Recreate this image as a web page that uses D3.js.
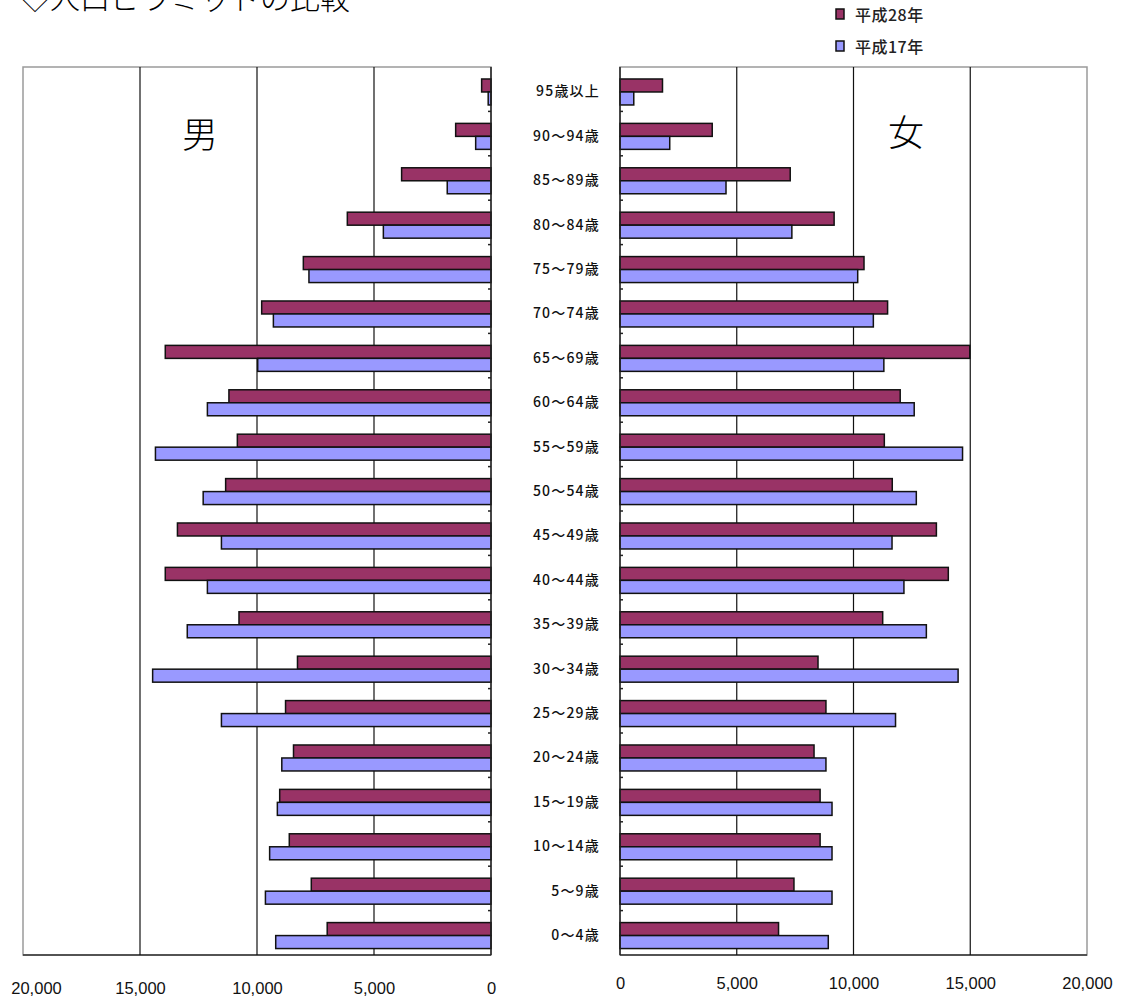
<!DOCTYPE html>
<html><head><meta charset="utf-8">
<script src="https://cdn.jsdelivr.net/npm/d3@7"></script>
<style>
html,body{margin:0;padding:0;background:#fff;}
svg{display:block;}
</style></head>
<body>
<script>
const categories = ["95歳以上","90～94歳","85～89歳","80～84歳","75～79歳","70～74歳","65～69歳","60～64歳","55～59歳","50～54歳","45～49歳","40～44歳","35～39歳","30～34歳","25～29歳","20～24歳","15～19歳","10～14歳","5～9歳","0～4歳"];
const seriesNames = ["平成28年","平成17年"];
const maleH28 = [400,1510,3820,6140,8020,9800,13920,11200,10840,11340,13400,13920,10770,8270,8780,8440,9030,8620,7680,7000];
const maleH17 = [120,655,1870,4600,7780,9300,9970,12120,14340,12300,11520,12120,12980,14460,11520,8940,9130,9460,9640,9200];
const femaleH28 = [1820,3950,7290,9170,10450,11460,14980,12000,11320,11660,13550,14060,11250,8480,8820,8310,8570,8570,7450,6790];
const femaleH17 = [590,2130,4540,7360,10180,10850,11300,12600,14670,12690,11650,12160,13120,14480,11800,8820,9080,9080,9080,8920];
const tickValues = [0,5000,10000,15000,20000];
const colors = ["#993366","#9999FF"];

const W = 1121, H = 998;
const svg = d3.select("body").append("svg").attr("width",W).attr("height",H);

const plotTop = 67, plotBottom = 955;
const y = d3.scaleBand().domain(categories).range([plotTop,plotBottom]);
const ys = d3.scaleBand().domain(seriesNames).range([y.bandwidth()*0.27, y.bandwidth()*0.855]);
const xL = d3.scaleLinear().domain([0,20000]).range([491,23]);
const xR = d3.scaleLinear().domain([0,20000]).range([620,1087]);

// title (cut off at top, as in the source image)
svg.append("text").attr("x",20).attr("y",9)
  .attr("font-family","'Noto Sans CJK JP'").attr("font-weight",300).attr("font-size",30)
  .attr("fill","#000").text("◇人口ピラミッドの比較");

function panel(x, dataSets, side){
  const g = svg.append("g");
  const x0 = x(0), x1 = x(20000);
  const left = Math.min(x0,x1), right = Math.max(x0,x1);
  g.append("rect").attr("x",left).attr("y",plotTop).attr("width",right-left).attr("height",plotBottom-plotTop)
    .attr("fill","#fff").attr("stroke","#9a9a9a").attr("stroke-width",1.5);
  g.append("line").attr("x1",left).attr("x2",right).attr("y1",plotBottom).attr("y2",plotBottom)
    .attr("stroke","#333").attr("stroke-width",1.5);
  g.selectAll("line.grid").data(tickValues.filter(v=>v>0 && v<20000)).join("line")
    .attr("class","grid").attr("x1",d=>x(d)).attr("x2",d=>x(d)).attr("y1",plotTop).attr("y2",plotBottom)
    .attr("stroke","#111").attr("stroke-width",1.2);
  dataSets.forEach((vals,si)=>{
    g.selectAll("rect.s"+si).data(vals).join("rect").attr("class","s"+si)
      .attr("x",d=>Math.min(x(0),x(d)))
      .attr("width",d=>Math.abs(x(d)-x(0)))
      .attr("y",(d,i)=>y(categories[i])+ys(seriesNames[si]))
      .attr("height",ys.bandwidth())
      .attr("fill",colors[si]).attr("stroke","#111").attr("stroke-width",1.5);
  });
  g.append("line").attr("x1",x(0)).attr("x2",x(0)).attr("y1",plotTop).attr("y2",plotBottom)
    .attr("stroke","#222").attr("stroke-width",1.5);
  const dir = side==="left" ? -1 : 1;
  g.selectAll("line.tk").data(categories.slice(1)).join("line").attr("class","tk")
    .attr("x1",x(0)).attr("x2",x(0)+dir*3)
    .attr("y1",d=>y(d)).attr("y2",d=>y(d))
    .attr("stroke","#222").attr("stroke-width",1.5);
  const ax = svg.append("g").attr("transform",`translate(0,${side==="left"?982:977})`)
    .call(d3.axisBottom(x).tickValues(tickValues).tickSize(0).tickPadding(0).tickFormat(d3.format(",")));
  ax.select(".domain").remove();
  ax.selectAll("text").attr("font-family","'Liberation Sans', Arial, sans-serif")
    .attr("font-size",16.5).attr("font-weight",500).attr("fill","#111")
    .attr("dx", d => {
      const px = x(d);
      if (px < 36) return 36 - px;
      if (px > 1090) return 1090 - px;
      return 0;
    });
}
panel(xL,[maleH28,maleH17],"left");
panel(xR,[femaleH28,femaleH17],"right");

svg.append("g").selectAll("text").data(categories).join("text")
  .attr("x",600).attr("y",d=>y(d)+y.bandwidth()*0.55)
  .attr("dy","0.35em").attr("text-anchor","end")
  .attr("font-family","'Noto Sans CJK JP'").attr("font-size",14).attr("font-weight",500)
  .attr("letter-spacing",1.2).attr("fill","#111").text(d=>d);

svg.append("text").attr("x",200).attr("y",135).attr("dy","0.36em").attr("text-anchor","middle")
  .attr("font-family","'Noto Sans CJK JP'").attr("font-weight",300).attr("font-size",36).text("男");
svg.append("text").attr("x",906).attr("y",133).attr("dy","0.36em").attr("text-anchor","middle")
  .attr("font-family","'Noto Sans CJK JP'").attr("font-weight",300).attr("font-size",36).text("女");

const lg = svg.append("g").selectAll("g").data(seriesNames).join("g")
  .attr("transform",(d,i)=>`translate(836,${14+i*32})`);
lg.append("rect").attr("x",0).attr("y",-5).attr("width",8).attr("height",10)
  .attr("fill",(d,i)=>colors[i]).attr("stroke","#111").attr("stroke-width",1.5);
lg.append("text").attr("x",19).attr("y",1).attr("dy","0.36em")
  .attr("font-family","'Noto Sans CJK JP'").attr("font-size",16).attr("font-weight",500)
  .attr("letter-spacing",0.5).attr("fill","#222").text(d=>d);
</script>
</body></html>
